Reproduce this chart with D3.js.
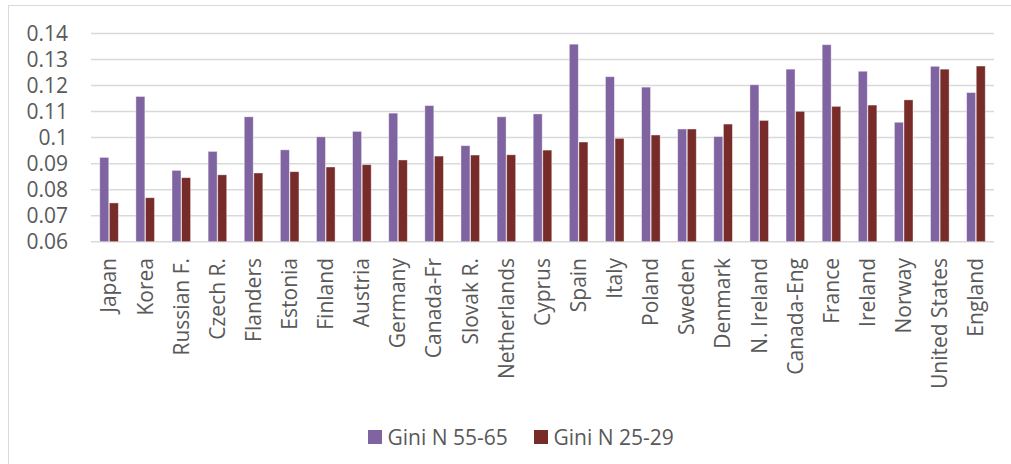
<!DOCTYPE html>
<html>
<head>
<meta charset="utf-8">
<script src="https://cdn.jsdelivr.net/npm/d3@7"></script>
<style>
  body { margin: 0; background: #fff; }
  svg { display: block; }
</style>
</head>
<body>
<div id="chart"></div>
<script>
// categories, left to right
const countries = ['Japan', 'Korea', 'Russian F.', 'Czech R.', 'Flanders', 'Estonia', 'Finland',
  'Austria', 'Germany', 'Canada-Fr', 'Slovak R.', 'Netherlands', 'Cyprus', 'Spain', 'Italy',
  'Poland', 'Sweden', 'Denmark', 'N. Ireland', 'Canada-Eng', 'France', 'Ireland', 'Norway',
  'United States', 'England'];

const gini5565 = [0.0924, 0.1158, 0.0874, 0.0947, 0.1080, 0.0953, 0.1003, 0.1024, 0.1094, 0.1123,
  0.0969, 0.1080, 0.1091, 0.1359, 0.1234, 0.1194, 0.1033, 0.1004, 0.1203, 0.1263, 0.1357,
  0.1255, 0.1059, 0.1274, 0.1173];

const gini2529 = [0.0749, 0.0769, 0.0846, 0.0857, 0.0864, 0.0869, 0.0887, 0.0896, 0.0914, 0.0929,
  0.0933, 0.0934, 0.0952, 0.0983, 0.0997, 0.1010, 0.1033, 0.1052, 0.1066, 0.1101, 0.1120,
  0.1125, 0.1145, 0.1263, 0.1275];

const yTicks = [0.06, 0.07, 0.08, 0.09, 0.1, 0.11, 0.12, 0.13, 0.14];

const seriesNames = ['Gini N 55-65', 'Gini N 25-29'];
const COLORS = ['#8064A2', '#772C2A'];

const W = 1011, H = 464;
const PLOT = { left: 91, right: 994, top: 33.5, bottom: 241.7 };
const FONT = '"Open Sans", "DejaVu Sans", sans-serif';
const FONT_SIZE = 21;
const TEXT_COLOR = '#595959';

const svg = d3.select('#chart').append('svg')
  .attr('width', W)
  .attr('height', H);

// chart frame (runs off the right and bottom edges)
svg.append('rect')
  .attr('x', 8.5).attr('y', 5.5)
  .attr('width', W + 10).attr('height', H + 10)
  .attr('fill', 'none')
  .attr('stroke', '#d9d9d9')
  .attr('stroke-width', 1);

const x = d3.scaleBand()
  .domain(countries)
  .range([PLOT.left, PLOT.right]);

const y = d3.scaleLinear()
  .domain([0.06, 0.14])
  .range([PLOT.bottom, PLOT.top]);

// gridlines
svg.append('g')
  .selectAll('line')
  .data(yTicks)
  .join('line')
  .attr('x1', PLOT.left).attr('x2', PLOT.right)
  .attr('y1', d => y(d)).attr('y2', d => y(d))
  .attr('stroke', '#d9d9d9')
  .attr('stroke-width', 1.5);

// y tick labels
svg.append('g')
  .selectAll('text')
  .data(yTicks)
  .join('text')
  .attr('x', 68)
  .attr('y', d => y(d))
  .attr('dy', '0.35em')
  .attr('text-anchor', 'end')
  .attr('font-family', FONT)
  .attr('font-size', FONT_SIZE)
  .attr('fill', TEXT_COLOR)
  .text(d => String(+d.toFixed(2)));

// bars
const barW = 9;
const series = [gini5565, gini2529];
series.forEach((vals, s) => {
  svg.append('g')
    .selectAll('rect')
    .data(countries)
    .join('rect')
    .attr('x', d => x(d) + x.bandwidth() / 2 - barW + s * (barW + 0.6) - 0.3)
    .attr('y', (d, i) => y(vals[i]))
    .attr('width', barW)
    .attr('height', (d, i) => y(0.06) - y(vals[i]))
    .attr('fill', COLORS[s])
    .attr('stroke', '#fff')
    .attr('stroke-opacity', 0.5)
    .attr('stroke-width', 0.8);
});

// x category labels, rotated
svg.append('g')
  .selectAll('text')
  .data(countries)
  .join('text')
  .attr('transform', d => `translate(${x(d) + x.bandwidth() / 2}, 258) rotate(-90)`)
  .attr('dy', '0.35em')
  .attr('text-anchor', 'end')
  .attr('font-family', FONT)
  .attr('font-size', FONT_SIZE)
  .attr('fill', TEXT_COLOR)
  .text(d => d);

// legend
const legendX = [368, 534];
const legend = svg.append('g');
seriesNames.forEach((name, i) => {
  legend.append('rect')
    .attr('x', legendX[i]).attr('y', 430)
    .attr('width', 14).attr('height', 14)
    .attr('fill', COLORS[i]);
  legend.append('text')
    .attr('x', legendX[i] + 19.5).attr('y', 438)
    .attr('dy', '0.35em')
    .attr('font-family', FONT)
    .attr('font-size', FONT_SIZE)
    .attr('fill', TEXT_COLOR)
    .text(name);
});
</script>
</body>
</html>
